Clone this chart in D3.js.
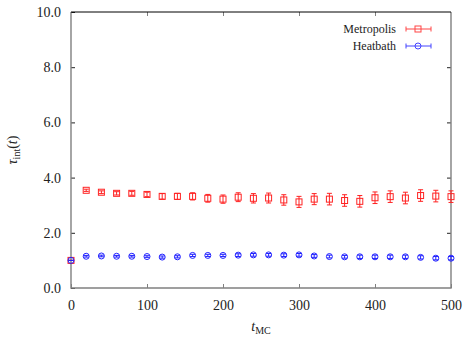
<!DOCTYPE html>
<html>
<head>
<meta charset="utf-8">
<script src="https://cdn.jsdelivr.net/npm/d3@7"></script>
<style>
  body { margin: 0; background: #fff; }
  text { font-family: "Liberation Serif", "DejaVu Serif", serif; }
</style>
</head>
<body>
<div id="chart"></div>
<script>
// sweep times
const tMC = [0, 20, 40, 60, 80, 100, 120, 140, 160, 180, 200, 220, 240, 260, 280, 300, 320, 340, 360, 380, 400, 420, 440, 460, 480, 500];
// integrated autocorrelation time and errors
const metroTau = [1.00, 3.54, 3.47, 3.43, 3.43, 3.39, 3.32, 3.32, 3.32, 3.25, 3.22, 3.29, 3.25, 3.26, 3.19, 3.12, 3.22, 3.22, 3.17, 3.14, 3.27, 3.31, 3.26, 3.35, 3.33, 3.31];
const metroErr = [0.00, 0.04, 0.05, 0.06, 0.07, 0.08, 0.10, 0.11, 0.13, 0.14, 0.15, 0.16, 0.17, 0.18, 0.19, 0.20, 0.20, 0.21, 0.21, 0.21, 0.21, 0.21, 0.21, 0.21, 0.21, 0.21];
const heatTau = [1.00, 1.15, 1.16, 1.15, 1.15, 1.14, 1.12, 1.13, 1.18, 1.18, 1.18, 1.19, 1.20, 1.20, 1.19, 1.20, 1.16, 1.14, 1.13, 1.13, 1.13, 1.13, 1.13, 1.11, 1.08, 1.08];
const heatErr = [0.00, 0.03, 0.03, 0.03, 0.03, 0.03, 0.04, 0.04, 0.04, 0.04, 0.04, 0.05, 0.05, 0.05, 0.05, 0.05, 0.05, 0.05, 0.05, 0.06, 0.06, 0.06, 0.06, 0.06, 0.06, 0.06];
const yTicks = [0, 2, 4, 6, 8, 10];
const xTicks = [0, 100, 200, 300, 400, 500];

const w = 473, h = 340;
const mLeft = 71, mRight = 451, mTop = 12, mBottom = 288;
const serif = '"Liberation Serif", serif';

const svg = d3.select('#chart').append('svg')
  .attr('width', w).attr('height', h);

const x = d3.scaleLinear().domain([0, 500]).range([mLeft, mRight]);
const y = d3.scaleLinear().domain([0, 10]).range([mBottom, mTop]);

const grey = '#808080';

// tick labels + inward ticks
const yAxis = svg.append('g').attr('transform', `translate(${mLeft},0)`)
  .call(d3.axisLeft(y).tickValues(yTicks).tickFormat(d3.format('.1f')).tickSizeInner(-4).tickSizeOuter(0).tickPadding(10));
const xAxis = svg.append('g').attr('transform', `translate(0,${mBottom})`)
  .call(d3.axisBottom(x).tickValues(xTicks).tickFormat(d3.format('d')).tickSizeInner(-4).tickSizeOuter(0).tickPadding(10));
const yAxisR = svg.append('g').attr('transform', `translate(${mRight},0)`)
  .call(d3.axisRight(y).tickValues(yTicks.slice(1, -1)).tickFormat('').tickSizeInner(-4).tickSizeOuter(0));
const xAxisT = svg.append('g').attr('transform', `translate(0,${mTop})`)
  .call(d3.axisTop(x).tickValues(xTicks.slice(1, -1)).tickFormat('').tickSizeInner(-4).tickSizeOuter(0));

[yAxis, xAxis, yAxisR, xAxisT].forEach(g => {
  g.select('.domain').remove();
  g.attr('font-family', serif);
  g.selectAll('text').attr('font-size', 14).attr('fill', '#222');
});
yAxis.selectAll('line').attr('stroke', '#222');
yAxisR.selectAll('line').attr('stroke', '#222');
xAxis.selectAll('line').attr('stroke', grey);
xAxisT.selectAll('line').attr('stroke', grey);
xAxis.selectAll('text').attr('dy', '0.85em');

// border
svg.append('path')
  .attr('d', `M${mRight},${mTop}V${mBottom}H${mLeft}V${mTop}`)
  .attr('fill', 'none').attr('stroke', grey).attr('stroke-width', 1.4);
svg.append('line')
  .attr('x1', mLeft).attr('x2', mRight).attr('y1', mTop).attr('y2', mTop)
  .attr('stroke', '#000').attr('stroke-width', 1);

function drawSeries(vals, errs, color, shape) {
  const g = svg.append('g');
  const pts = tMC.map((t, i) => ({t: t, v: vals[i], e: errs[i]}));
  const cap = 2.5;
  const bars = g.selectAll('g.bar').data(pts).enter().append('g')
    .attr('stroke', color).attr('stroke-width', 1).attr('fill', 'none');
  bars.append('line')
    .attr('x1', d => x(d.t)).attr('x2', d => x(d.t))
    .attr('y1', d => y(d.v - d.e)).attr('y2', d => y(d.v + d.e));
  bars.append('line')
    .attr('x1', d => x(d.t) - cap).attr('x2', d => x(d.t) + cap)
    .attr('y1', d => y(d.v - d.e)).attr('y2', d => y(d.v - d.e));
  bars.append('line')
    .attr('x1', d => x(d.t) - cap).attr('x2', d => x(d.t) + cap)
    .attr('y1', d => y(d.v + d.e)).attr('y2', d => y(d.v + d.e));
  if (shape === 'square') {
    bars.append('rect')
      .attr('x', d => x(d.t) - 3).attr('y', d => y(d.v) - 3)
      .attr('width', 6).attr('height', 6);
  } else {
    bars.append('circle')
      .attr('cx', d => x(d.t)).attr('cy', d => y(d.v)).attr('r', 3);
  }
}

drawSeries(metroTau, metroErr, '#f22', 'square');
drawSeries(heatTau, heatErr, '#22f', 'circle');

// legend
const legend = [
  {name: 'Metropolis', color: '#f44', shape: 'square', y: 29},
  {name: 'Heatbath', color: '#44f', shape: 'circle', y: 46}
];
const lg = svg.append('g').attr('font-family', serif);
legend.forEach(d => {
  lg.append('text').attr('x', 396).attr('y', d.y).attr('dy', '0.35em')
    .attr('text-anchor', 'end').attr('font-size', 12).attr('fill', '#222').text(d.name);
  const s = lg.append('g').attr('stroke', d.color).attr('fill', 'none').attr('stroke-width', 1);
  s.append('line').attr('x1', 406).attr('x2', 431).attr('y1', d.y).attr('y2', d.y);
  s.append('line').attr('x1', 406).attr('x2', 406).attr('y1', d.y - 2.5).attr('y2', d.y + 2.5);
  s.append('line').attr('x1', 431).attr('x2', 431).attr('y1', d.y - 2.5).attr('y2', d.y + 2.5);
  if (d.shape === 'square') {
    s.append('rect').attr('x', 415).attr('y', d.y - 3).attr('width', 6).attr('height', 6);
  } else {
    s.append('circle').attr('cx', 418).attr('cy', d.y).attr('r', 3);
  }
});

// axis titles
const yl = svg.append('text')
  .attr('transform', 'translate(17,150) rotate(-90)')
  .attr('text-anchor', 'middle').attr('font-size', 14).attr('fill', '#222');
yl.append('tspan').attr('font-style', 'italic').text('τ');
yl.append('tspan').attr('font-size', 10).attr('dy', 3).text('int');
yl.append('tspan').attr('dy', -3).text('(');
yl.append('tspan').attr('font-style', 'italic').text('t');
yl.append('tspan').text(')');

const xl = svg.append('text')
  .attr('x', 261).attr('y', 331)
  .attr('text-anchor', 'middle').attr('font-size', 14).attr('fill', '#222');
xl.append('tspan').attr('font-style', 'italic').text('t');
xl.append('tspan').attr('font-size', 10).attr('dy', 3).text('MC');
</script>
</body>
</html>
